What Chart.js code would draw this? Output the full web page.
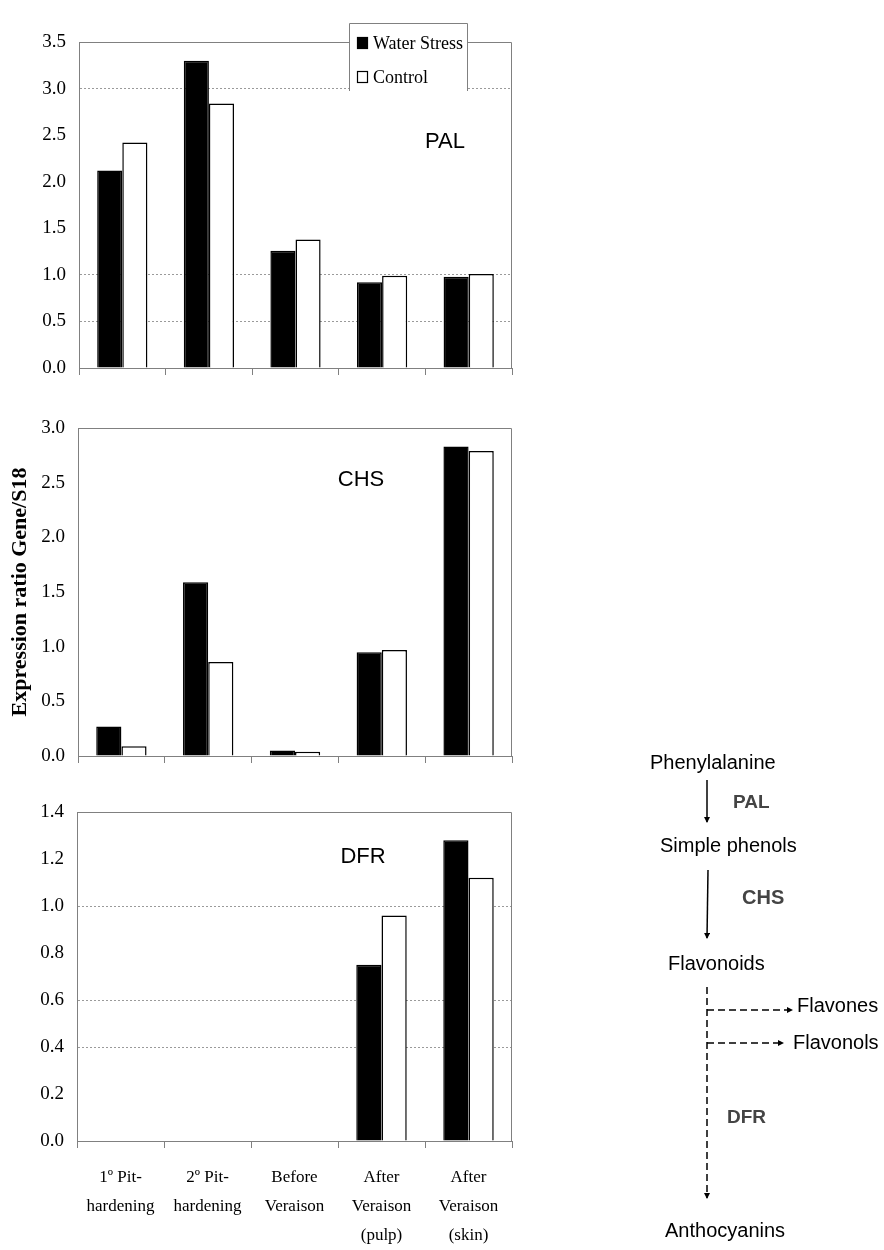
<!DOCTYPE html>
<html>
<head>
<meta charset="utf-8">
<script src="https://cdn.jsdelivr.net/npm/chart.js@4.4.1/dist/chart.umd.min.js"></script>
<style>
  body { margin: 0; background: #fff; width: 884px; height: 1250px; position: relative; overflow: hidden; }
  canvas { position: absolute; left: 0; }
  #arrows { position: absolute; left: 0; top: 0; }
  .pw { position: absolute; font-family: Arial, 'Liberation Sans', sans-serif; font-size: 20px; line-height: 20px; color: #000; white-space: nowrap; transform: translateY(-50%); }
  .pw.enz { font-weight: bold; color: #444; font-size: 19px; }
</style>
</head>
<body>
<canvas id="palChart" width="530" height="400" style="top:0"></canvas>
<canvas id="chsChart" width="530" height="390" style="top:400px"></canvas>
<canvas id="dfrChart" width="530" height="470" style="top:780px"></canvas>

<!-- pathway on the right -->
<svg id="arrows" width="884" height="1250">
  <defs>
    <marker id="ah" markerWidth="6" markerHeight="6" refX="5" refY="3" orient="auto" markerUnits="userSpaceOnUse">
      <path d="M0,0 L6,3 L0,6 z" fill="#000"/>
    </marker>
  </defs>
  <line x1="707" y1="780" x2="707" y2="822" stroke="#000" stroke-width="1.5" marker-end="url(#ah)"/>
  <line x1="708" y1="870" x2="707" y2="938" stroke="#000" stroke-width="1.5" marker-end="url(#ah)"/>
  <line x1="707" y1="987" x2="707" y2="1198" stroke="#000" stroke-width="1.5" stroke-dasharray="7 4" marker-end="url(#ah)"/>
  <line x1="707" y1="1010" x2="792" y2="1010" stroke="#000" stroke-width="1.5" stroke-dasharray="7 4" marker-end="url(#ah)"/>
  <line x1="707" y1="1043" x2="783" y2="1043" stroke="#000" stroke-width="1.5" stroke-dasharray="7 4" marker-end="url(#ah)"/>
</svg>
<div class="pw" style="left:650px;top:762px">Phenylalanine</div>
<div class="pw enz" style="left:733px;top:802px">PAL</div>
<div class="pw" style="left:660px;top:845px">Simple phenols</div>
<div class="pw enz" style="left:742px;top:897px;font-size:20px">CHS</div>
<div class="pw" style="left:668px;top:963px">Flavonoids</div>
<div class="pw" style="left:797px;top:1005px">Flavones</div>
<div class="pw" style="left:793px;top:1042px">Flavonols</div>
<div class="pw enz" style="left:727px;top:1117px">DFR</div>
<div class="pw" style="left:665px;top:1230px">Anthocyanins</div>

<script>
// data
const stages = [
  ['1º Pit-', 'hardening'],
  ['2º Pit-', 'hardening'],
  ['Before', 'Veraison'],
  ['After', 'Veraison', '(pulp)'],
  ['After', 'Veraison', '(skin)']
];
const seriesNames = ['Water Stress', 'Control'];

const palStress  = [2.12, 3.30, 1.26, 0.92, 0.98];
const palControl = [2.42, 2.84, 1.38, 0.99, 1.01];
const chsStress  = [0.27, 1.59, 0.05, 0.95, 2.83];
const chsControl = [0.09, 0.86, 0.04, 0.97, 2.79];
const dfrStress  = [null, null, null, 0.75, 1.28];
const dfrControl = [null, null, null, 0.96, 1.12];

const palAxis = { max: 3.5, step: 0.5 };
const chsAxis = { max: 3.0, step: 0.5 };
const dfrAxis = { max: 1.4, step: 0.2 };

const serif = "'Times New Roman', 'Liberation Serif', serif";
const sans = "Arial, 'Liberation Sans', sans-serif";
const axisGrey = '#808080';

// frame, gene name and the boxed legend
const decorPlugin = {
  id: 'decor',
  afterDraw(chart, args, opts) {
    const ctx = chart.ctx;
    const a = chart.chartArea;
    ctx.save();
    ctx.strokeStyle = axisGrey;
    ctx.lineWidth = 1;
    ctx.beginPath();
    ctx.moveTo(a.left, a.top + 0.5);
    ctx.lineTo(a.right - 0.5, a.top + 0.5);
    ctx.lineTo(a.right - 0.5, a.bottom);
    ctx.stroke();

    if (opts.gene) {
      ctx.fillStyle = '#000';
      ctx.font = '22px ' + sans;
      ctx.textAlign = 'center';
      ctx.textBaseline = 'middle';
      ctx.fillText(opts.gene.text, opts.gene.x, opts.gene.y);
    }

    if (opts.legend) {
      const L = opts.legend;
      ctx.fillStyle = '#fff';
      ctx.fillRect(L.x, L.y, L.w, L.h);
      ctx.strokeStyle = axisGrey;
      ctx.beginPath();
      ctx.moveTo(L.x + 0.5, L.y + L.h);
      ctx.lineTo(L.x + 0.5, L.y + 0.5);
      ctx.lineTo(L.x + L.w - 0.5, L.y + 0.5);
      ctx.lineTo(L.x + L.w - 0.5, L.y + L.h);
      ctx.stroke();
      ctx.font = '18px ' + serif;
      ctx.textAlign = 'left';
      ctx.textBaseline = 'middle';
      chart.data.datasets.forEach((ds, i) => {
        const cy = L.y + 20 + i * 34;
        ctx.fillStyle = ds.backgroundColor;
        ctx.fillRect(L.x + 8, cy - 6, 11, 12);
        ctx.strokeStyle = '#000';
        ctx.lineWidth = 1.2;
        ctx.strokeRect(L.x + 8.5, cy - 5.5, 10, 11);
        ctx.fillStyle = '#000';
        ctx.fillText(ds.label, L.x + 24, cy + 1);
      });
    }
    ctx.restore();
  }
};

function makeChart(id, stress, control, axis, o) {
  const shownGrid = o.grid;
  new Chart(document.getElementById(id), {
    type: 'bar',
    data: {
      labels: stages,
      datasets: [
        { label: seriesNames[0], data: stress, backgroundColor: '#000', borderColor: '#000', borderWidth: 1.5 },
        { label: seriesNames[1], data: control, backgroundColor: '#fff', borderColor: '#000', borderWidth: 1.5 }
      ]
    },
    options: {
      responsive: false,
      animation: false,
      devicePixelRatio: 1,
      categoryPercentage: 0.58,
      barPercentage: 1,
      layout: { padding: { top: o.top, right: 18, left: 0, bottom: 0 } },
      plugins: {
        legend: { display: false },
        tooltip: { enabled: false },
        decor: { gene: o.gene, legend: o.legend }
      },
      scales: {
        x: {
          afterFit: s => { s.height = o.xHeight; },
          grid: { offset: true, drawOnChartArea: false, drawTicks: true, tickLength: 7, tickColor: axisGrey, tickWidth: 1 },
          border: { color: axisGrey, width: 1 },
          ticks: {
            display: o.showLabels,
            autoSkip: false,
            maxRotation: 0,
            padding: 15,
            color: '#000',
            font: { family: serif, size: 17, lineHeight: 1.7 }
          }
        },
        y: {
          min: 0,
          max: axis.max,
          afterFit: s => { s.width = o.yWidth; },
          grid: {
            drawTicks: false,
            lineWidth: 1,
            color: c => (c.tick && shownGrid.includes(Math.round(c.tick.value * 10) / 10)) ? '#9a9a9a' : 'rgba(0,0,0,0)'
          },
          border: { color: axisGrey, width: 1, dash: [2, 2] },
          ticks: {
            stepSize: axis.step,
            padding: 13,
            color: '#000',
            font: { family: serif, size: 19 },
            callback: v => Number(v).toFixed(1)
          },
          title: o.yTitle ? {
            display: true,
            text: o.yTitle,
            color: '#000',
            font: { family: serif, size: 22, weight: 'bold' },
            padding: { top: 7, bottom: 0 }
          } : { display: false }
        }
      }
    },
    plugins: [decorPlugin]
  });
}

makeChart('palChart', palStress, palControl, palAxis, {
  top: 42, xHeight: 32, yWidth: 79, showLabels: false, grid: [0.5, 1.0, 3.0],
  gene: { text: 'PAL', x: 445, y: 142 },
  legend: { x: 349, y: 23, w: 119, h: 68 }
});
makeChart('chsChart', chsStress, chsControl, chsAxis, {
  top: 28, xHeight: 34, yWidth: 78, showLabels: false, grid: [],
  gene: { text: 'CHS', x: 361, y: 80 },
  yTitle: 'Expression ratio Gene/S18'
});
makeChart('dfrChart', dfrStress, dfrControl, dfrAxis, {
  top: 32, xHeight: 109, yWidth: 77, showLabels: true, grid: [0.4, 0.6, 1.0],
  gene: { text: 'DFR', x: 363, y: 77 }
});
</script>
</body>
</html>
